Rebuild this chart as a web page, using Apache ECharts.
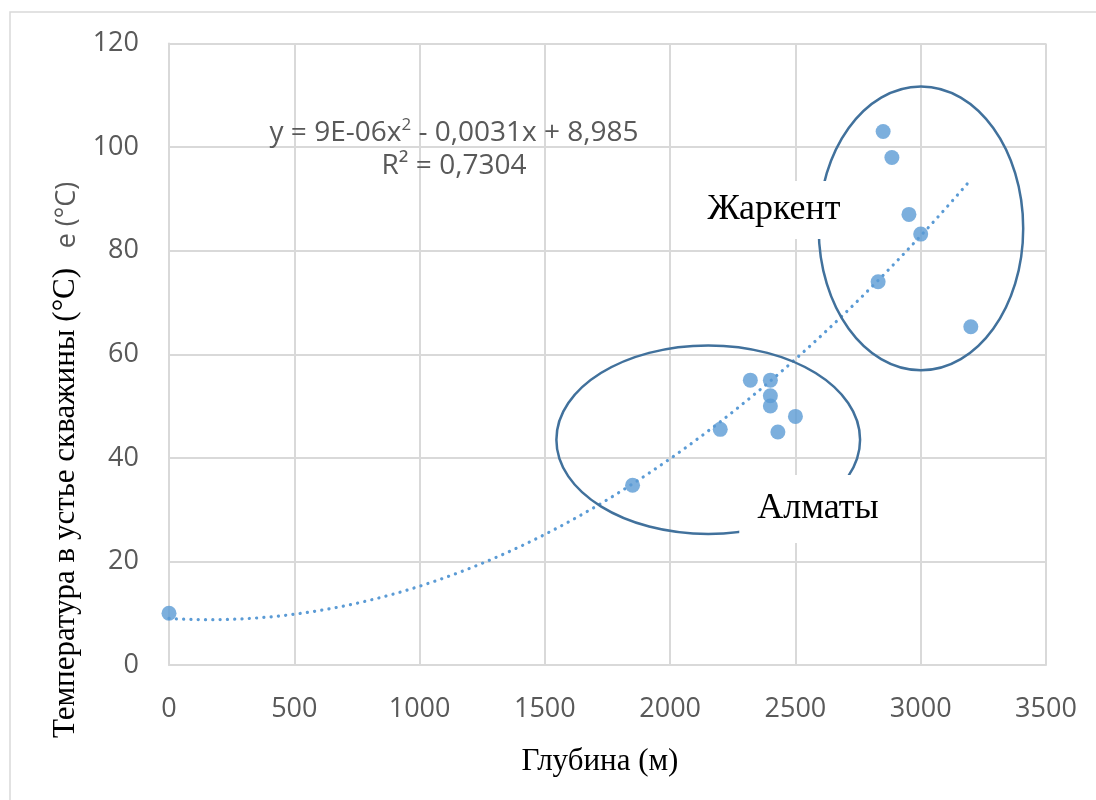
<!DOCTYPE html>
<html>
<head>
<meta charset="utf-8">
<script src="https://cdn.jsdelivr.net/npm/echarts@6/dist/echarts.min.js"></script>
<style>
  html, body { margin: 0; padding: 0; background: #fff; }
  #chart { width: 1096px; height: 800px; }
</style>
</head>
<body>
<div id="chart"></div>
<script>
// Well depth (m) and wellhead temperature (°C)
const depth = [0, 1850, 2200, 2320, 2400, 2400, 2400, 2430, 2500, 2850, 2885, 2953, 3000, 2830, 3200];
const temperature = [10, 34.7, 45.5, 55, 55, 52, 50, 45, 48, 103, 98, 87, 83.2, 74, 65.3];

// Axis ticks
const xTicks = [0, 500, 1000, 1500, 2000, 2500, 3000, 3500];
const yTicks = [0, 20, 40, 60, 80, 100, 120];

// Group outlines: [centre depth, centre temperature, half-width (m), half-height (°C)]
const groupZharkent = [3001, 84.3, 408, 27.4];
const groupAlmaty = [2152, 43.5, 606, 18.2];

// Least-squares quadratic fit of temperature against depth
function quadFit(xs, ys) {
  let s = [0, 0, 0, 0, 0], t = [0, 0, 0];
  for (let i = 0; i < xs.length; i++) {
    const x = xs[i], y = ys[i];
    let p = 1;
    for (let k = 0; k < 5; k++) { s[k] += p; if (k < 3) t[k] += p * y; p *= x; }
  }
  const M = [[s[4], s[3], s[2], t[2]], [s[3], s[2], s[1], t[1]], [s[2], s[1], s[0], t[0]]];
  for (let i = 0; i < 3; i++) {
    let piv = i;
    for (let r = i + 1; r < 3; r++) if (Math.abs(M[r][i]) > Math.abs(M[piv][i])) piv = r;
    [M[i], M[piv]] = [M[piv], M[i]];
    for (let r = 0; r < 3; r++) {
      if (r === i) continue;
      const f = M[r][i] / M[i][i];
      for (let c = i; c < 4; c++) M[r][c] -= f * M[i][c];
    }
  }
  return [M[0][3] / M[0][0], M[1][3] / M[1][1], M[2][3] / M[2][2]];
}

const [qa, qb, qc] = quadFit(depth, temperature);
const fitStart = 0, fitEnd = Math.max(...depth);
const trend = [];
for (let i = 0; i <= 160; i++) {
  const x = fitStart + (fitEnd - fitStart) * i / 160;
  trend.push([x, qa * x * x + qb * x + qc]);
}

const gray = '#595959';
const gridColor = '#D9D9D9';
const blue = '#5B9BD5';
const outline = '#41719C';
const sans = '"Open Sans", "DejaVu Sans", sans-serif';
const serif = '"Liberation Serif", "DejaVu Serif", serif';

const chart = echarts.init(document.getElementById('chart'), null, { renderer: 'canvas' });

chart.setOption({
  animation: false,
  backgroundColor: '#fff',
  grid: { left: 169, right: 50, top: 43.5, bottom: 135, containLabel: false },
  xAxis: {
    type: 'value',
    min: xTicks[0], max: xTicks[xTicks.length - 1], interval: xTicks[1] - xTicks[0],
    axisLine: { show: true, lineStyle: { color: gridColor, width: 2 } },
    axisTick: { show: false },
    axisLabel: { fontFamily: sans, fontSize: 27, color: gray, margin: 31, formatter: v => String(v) },
    splitLine: { show: true, lineStyle: { color: gridColor, width: 2 } }
  },
  yAxis: {
    type: 'value',
    min: yTicks[0], max: yTicks[yTicks.length - 1], interval: yTicks[1] - yTicks[0],
    axisLine: { show: true, lineStyle: { color: gridColor, width: 2 } },
    axisTick: { show: false },
    axisLabel: { fontFamily: sans, fontSize: 27, color: gray, margin: 30, formatter: v => String(v) },
    splitLine: { show: true, lineStyle: { color: gridColor, width: 2 } }
  },
  series: [
    {
      name: 'trend',
      type: 'line',
      data: trend,
      showSymbol: false,
      silent: true,
      z: 3,
      lineStyle: { color: blue, width: 3.2, type: [0.1, 7.2], cap: 'round' }
    },
    {
      name: 'wells',
      type: 'scatter',
      data: depth.map((d, i) => [d, temperature[i]]),
      symbol: 'circle',
      symbolSize: 15,
      z: 4,
      itemStyle: { color: blue }
    },
    {
      name: 'groups',
      type: 'custom',
      data: [groupZharkent, groupAlmaty],
      encode: { x: 0, y: 1 },
      silent: true,
      clip: false,
      z: 5,
      renderItem: function (params, api) {
        const c = api.coord([api.value(0), api.value(1)]);
        const s = api.size([api.value(2), api.value(3)]);
        return {
          type: 'ellipse',
          shape: { cx: c[0], cy: c[1], rx: s[0], ry: s[1] },
          style: { fill: 'none', stroke: outline, lineWidth: 2.5 }
        };
      }
    }
  ],
  graphic: [
    {
      type: 'rect', z: 0, silent: true,
      shape: { x: 10, y: 12, width: 1200, height: 900 },
      style: { fill: 'none', stroke: gridColor, lineWidth: 1.5 }
    },
    {
      type: 'text', z: 100, x: 454, y: 133,
      style: {
        text: 'y = 9E-06x{sup|2} - 0,0031x + 8,985',
        font: '28px ' + sans, fill: gray, align: 'center', verticalAlign: 'middle',
        rich: { sup: { fontSize: 17, fontFamily: sans, fill: gray, verticalAlign: 'top', padding: [0, 0, 16, 0] } }
      }
    },
    {
      type: 'text', z: 100, x: 454, y: 166,
      style: { text: 'R² = 0,7304', font: '28px ' + sans, fill: gray, align: 'center', verticalAlign: 'middle' }
    },
    {
      type: 'text', z: 100, x: 774, y: 210,
      style: {
        text: 'Жаркент', font: '36px ' + serif, fill: '#000', align: 'center', verticalAlign: 'middle',
        backgroundColor: '#fff', padding: [12, 12, 10, 12]
      }
    },
    {
      type: 'text', z: 100, x: 818, y: 509,
      style: {
        text: 'Алматы', font: '36px ' + serif, fill: '#000', align: 'center', verticalAlign: 'middle',
        backgroundColor: '#fff', padding: [24, 18, 8, 18]
      }
    },
    {
      type: 'text', z: 100, x: 600, y: 762,
      style: { text: 'Глубина (м)', font: '31px ' + serif, fill: '#000', align: 'center', verticalAlign: 'middle' }
    },
    {
      type: 'text', z: 100, x: 66, y: 503, rotation: Math.PI / 2,
      style: { text: 'Температура в устье скважины (°C)', font: '31px ' + serif, fill: '#000', align: 'center', verticalAlign: 'middle' }
    },
    {
      type: 'text', z: 100, x: 67, y: 215, rotation: Math.PI / 2,
      style: { text: 'е (°С)', font: '27px ' + sans, fill: gray, align: 'center', verticalAlign: 'middle' }
    }
  ]
});
</script>
</body>
</html>
